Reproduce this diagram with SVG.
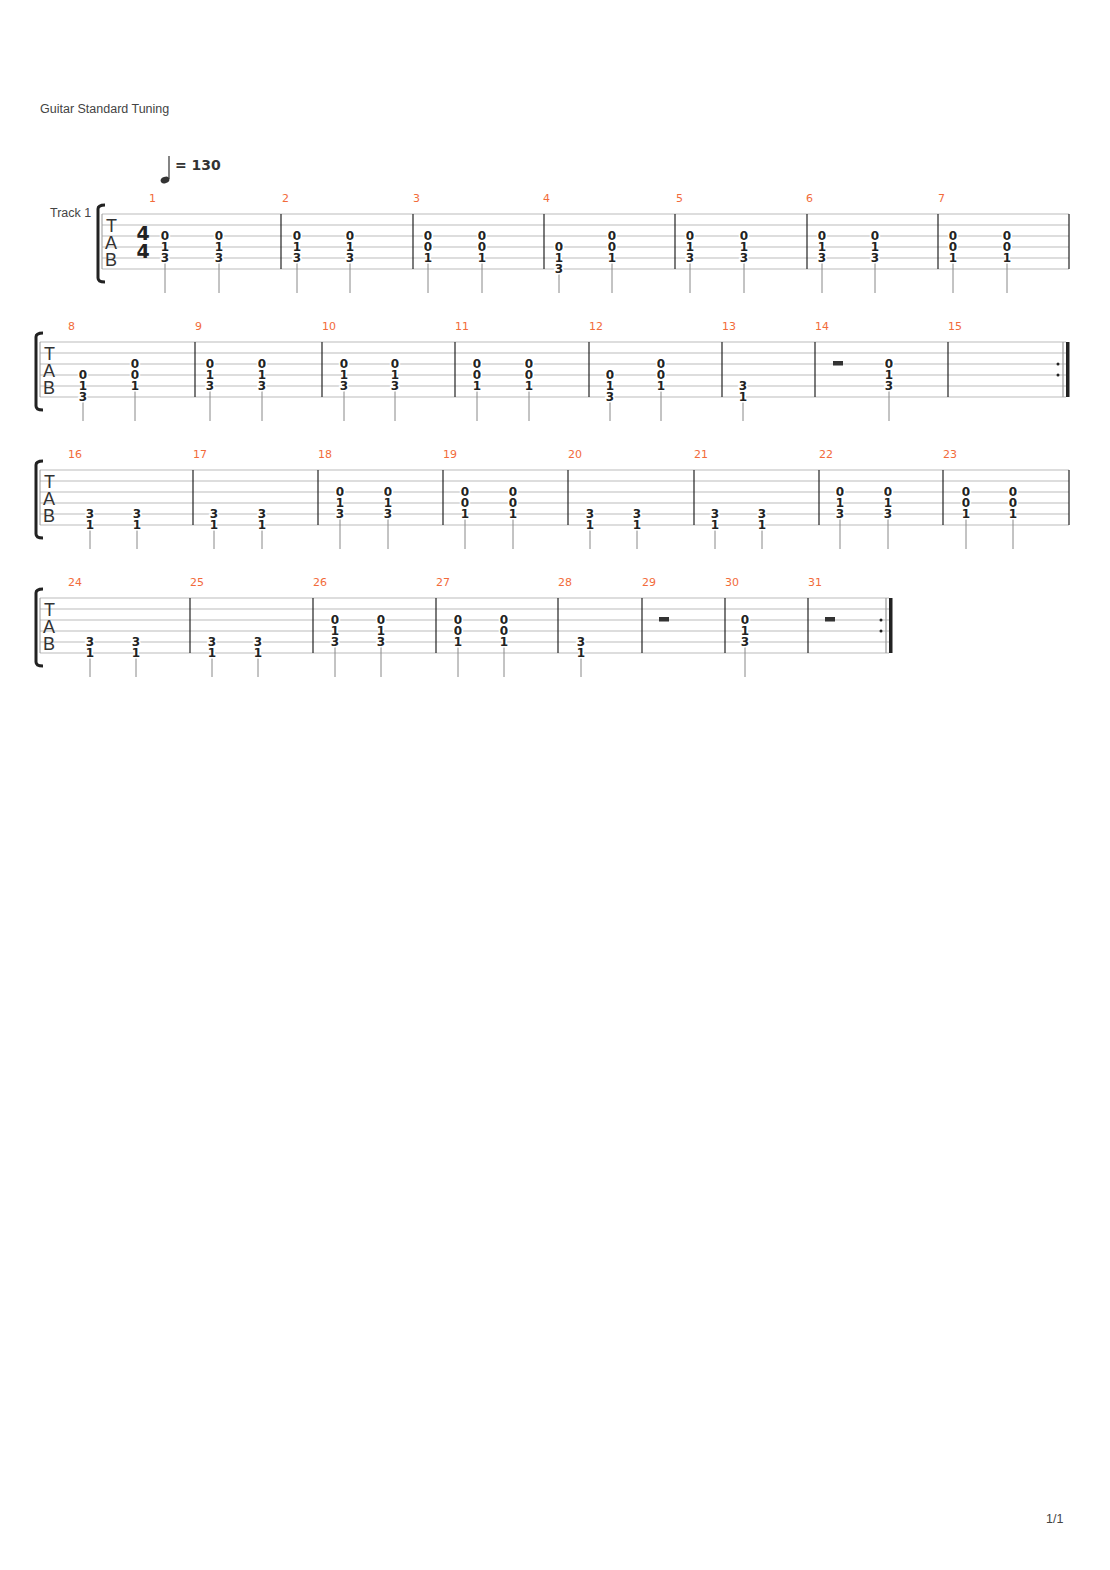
<svg xmlns="http://www.w3.org/2000/svg" xmlns:xlink="http://www.w3.org/1999/xlink" width="1110" height="1570" viewBox="0 0 1110 1570">
<style>
text{font-family:"DejaVu Sans","Liberation Sans",sans-serif}
.d{font-size:12px;font-weight:bold;text-anchor:middle;fill:#222;stroke:#fff;stroke-width:3;paint-order:stroke}
.n{font-size:11px;fill:#f26b3a}
.sl{stroke:#bbb;stroke-width:1}
.bl{stroke:#222;stroke-width:1.2}
.st{stroke:#888;stroke-width:1}
.tab{font-size:18px;fill:#333;font-family:"Liberation Sans",sans-serif}
.lbl{font-size:12.5px;fill:#444;font-family:"Liberation Sans",sans-serif}
</style>
<defs>
<g id="A"><line class="st" x1="0" y1="49" x2="0" y2="79"/><text class="d" x="0" y="26">0</text><text class="d" x="0" y="37">1</text><text class="d" x="0" y="48">3</text></g>
<g id="B"><line class="st" x1="0" y1="49" x2="0" y2="79"/><text class="d" x="0" y="26">0</text><text class="d" x="0" y="37">0</text><text class="d" x="0" y="48">1</text></g>
<g id="C"><line class="st" x1="0" y1="60" x2="0" y2="79"/><text class="d" x="0" y="37">0</text><text class="d" x="0" y="48">1</text><text class="d" x="0" y="59">3</text></g>
<g id="D"><line class="st" x1="0" y1="60" x2="0" y2="79"/><text class="d" x="0" y="48">3</text><text class="d" x="0" y="59">1</text></g>
<rect id="R" x="-5" y="19" width="10" height="4.5" fill="#333"/>
</defs>
<text class="lbl" x="40" y="113">Guitar Standard Tuning</text>
<text class="lbl" x="1046" y="1523">1/1</text>
<g id="tempo"><ellipse cx="165" cy="180" rx="4.5" ry="3.2" fill="#333" transform="rotate(-20 165 180)"/><line x1="169" y1="179" x2="169" y2="156" stroke="#333" stroke-width="1.2"/><text x="175" y="170" font-size="14" font-weight="bold" fill="#333">= 130</text></g>
<text class="lbl" x="50" y="217">Track 1</text>

<!-- System 1 -->
<g id="sys1">
<g transform="translate(0,214)">
<path d="M105,-9 Q98,-9 98,-5 V64 Q98,68 105,68" fill="none" stroke="#222" stroke-width="3"/>
<g class="sl"><line x1="102" y1="0" x2="1069" y2="0"/><line x1="102" y1="11" x2="1069" y2="11"/><line x1="102" y1="22" x2="1069" y2="22"/><line x1="102" y1="33" x2="1069" y2="33"/><line x1="102" y1="44" x2="1069" y2="44"/><line x1="102" y1="55" x2="1069" y2="55"/></g>
<line x1="102" y1="0" x2="102" y2="55" stroke="#999"/>
<text class="tab" x="106" y="18">T</text><text class="tab" x="105" y="35">A</text><text class="tab" x="105" y="52">B</text>
<text x="143" y="26" font-size="19" font-weight="bold" font-family="Liberation Serif,serif" text-anchor="middle" fill="#222">4</text>
<text x="143" y="44" font-size="19" font-weight="bold" font-family="Liberation Serif,serif" text-anchor="middle" fill="#222">4</text>
<g class="bl"><line x1="281" y1="0" x2="281" y2="55"/><line x1="413" y1="0" x2="413" y2="55"/><line x1="544" y1="0" x2="544" y2="55"/><line x1="675" y1="0" x2="675" y2="55"/><line x1="807" y1="0" x2="807" y2="55"/><line x1="938" y1="0" x2="938" y2="55"/><line x1="1069" y1="0" x2="1069" y2="55"/></g>
<text class="n" x="149" y="-12">1</text><text class="n" x="282" y="-12">2</text><text class="n" x="413" y="-12">3</text><text class="n" x="543" y="-12">4</text><text class="n" x="676" y="-12">5</text><text class="n" x="806" y="-12">6</text><text class="n" x="938" y="-12">7</text>
<use href="#A" x="165"/><use href="#A" x="219"/><use href="#A" x="297"/><use href="#A" x="350"/><use href="#B" x="428"/><use href="#B" x="482"/><use href="#C" x="559"/><use href="#B" x="612"/><use href="#A" x="690"/><use href="#A" x="744"/><use href="#A" x="822"/><use href="#A" x="875"/><use href="#B" x="953"/><use href="#B" x="1007"/>
</g></g>

<!-- System 2 -->
<g id="sys2"><g transform="translate(0,342)">
<path d="M43,-9 Q36,-9 36,-5 V64 Q36,68 43,68" fill="none" stroke="#222" stroke-width="3"/>
<g class="sl"><line x1="40" y1="0" x2="1066" y2="0"/><line x1="40" y1="11" x2="1066" y2="11"/><line x1="40" y1="22" x2="1066" y2="22"/><line x1="40" y1="33" x2="1066" y2="33"/><line x1="40" y1="44" x2="1066" y2="44"/><line x1="40" y1="55" x2="1066" y2="55"/></g>
<line x1="40" y1="0" x2="40" y2="55" stroke="#999"/>
<text class="tab" x="44" y="18">T</text><text class="tab" x="43" y="35">A</text><text class="tab" x="43" y="52">B</text>
<g class="bl"><line x1="195" y1="0" x2="195" y2="55"/><line x1="322" y1="0" x2="322" y2="55"/><line x1="455" y1="0" x2="455" y2="55"/><line x1="589" y1="0" x2="589" y2="55"/><line x1="722" y1="0" x2="722" y2="55"/><line x1="815" y1="0" x2="815" y2="55"/><line x1="948" y1="0" x2="948" y2="55"/></g>
<line x1="1063" y1="0" x2="1063" y2="55" stroke="#999" stroke-width="1.2"/><rect x="1066" y="0" width="3.5" height="55" fill="#222"/><circle cx="1058" cy="22" r="1.5" fill="#222"/><circle cx="1058" cy="33" r="1.5" fill="#222"/>
<text class="n" x="68" y="-12">8</text><text class="n" x="195" y="-12">9</text><text class="n" x="322" y="-12">10</text><text class="n" x="455" y="-12">11</text><text class="n" x="589" y="-12">12</text><text class="n" x="722" y="-12">13</text><text class="n" x="815" y="-12">14</text><text class="n" x="948" y="-12">15</text>
<use href="#C" x="83"/><use href="#B" x="135"/><use href="#A" x="210"/><use href="#A" x="262"/><use href="#A" x="344"/><use href="#A" x="395"/><use href="#B" x="477"/><use href="#B" x="529"/><use href="#C" x="610"/><use href="#B" x="661"/><use href="#D" x="743"/><use href="#R" x="838"/><use href="#A" x="889"/>
</g></g>

<!-- System 3 -->
<g id="sys3"><g transform="translate(0,470)">
<path d="M43,-9 Q36,-9 36,-5 V64 Q36,68 43,68" fill="none" stroke="#222" stroke-width="3"/>
<g class="sl"><line x1="40" y1="0" x2="1069" y2="0"/><line x1="40" y1="11" x2="1069" y2="11"/><line x1="40" y1="22" x2="1069" y2="22"/><line x1="40" y1="33" x2="1069" y2="33"/><line x1="40" y1="44" x2="1069" y2="44"/><line x1="40" y1="55" x2="1069" y2="55"/></g>
<line x1="40" y1="0" x2="40" y2="55" stroke="#999"/>
<text class="tab" x="44" y="18">T</text><text class="tab" x="43" y="35">A</text><text class="tab" x="43" y="52">B</text>
<g class="bl"><line x1="193" y1="0" x2="193" y2="55"/><line x1="318" y1="0" x2="318" y2="55"/><line x1="443" y1="0" x2="443" y2="55"/><line x1="568" y1="0" x2="568" y2="55"/><line x1="694" y1="0" x2="694" y2="55"/><line x1="819" y1="0" x2="819" y2="55"/><line x1="943" y1="0" x2="943" y2="55"/><line x1="1069" y1="0" x2="1069" y2="55"/></g>
<text class="n" x="68" y="-12">16</text><text class="n" x="193" y="-12">17</text><text class="n" x="318" y="-12">18</text><text class="n" x="443" y="-12">19</text><text class="n" x="568" y="-12">20</text><text class="n" x="694" y="-12">21</text><text class="n" x="819" y="-12">22</text><text class="n" x="943" y="-12">23</text>
<use href="#D" x="90"/><use href="#D" x="137"/><use href="#D" x="214"/><use href="#D" x="262"/><use href="#A" x="340"/><use href="#A" x="388"/><use href="#B" x="465"/><use href="#B" x="513"/><use href="#D" x="590"/><use href="#D" x="637"/><use href="#D" x="715"/><use href="#D" x="762"/><use href="#A" x="840"/><use href="#A" x="888"/><use href="#B" x="966"/><use href="#B" x="1013"/>
</g></g>

<!-- System 4 -->
<g id="sys4"><g transform="translate(0,598)">
<path d="M43,-9 Q36,-9 36,-5 V64 Q36,68 43,68" fill="none" stroke="#222" stroke-width="3"/>
<g class="sl"><line x1="40" y1="0" x2="889" y2="0"/><line x1="40" y1="11" x2="889" y2="11"/><line x1="40" y1="22" x2="889" y2="22"/><line x1="40" y1="33" x2="889" y2="33"/><line x1="40" y1="44" x2="889" y2="44"/><line x1="40" y1="55" x2="889" y2="55"/></g>
<line x1="40" y1="0" x2="40" y2="55" stroke="#999"/>
<text class="tab" x="44" y="18">T</text><text class="tab" x="43" y="35">A</text><text class="tab" x="43" y="52">B</text>
<g class="bl"><line x1="190" y1="0" x2="190" y2="55"/><line x1="313" y1="0" x2="313" y2="55"/><line x1="436" y1="0" x2="436" y2="55"/><line x1="558" y1="0" x2="558" y2="55"/><line x1="642" y1="0" x2="642" y2="55"/><line x1="725" y1="0" x2="725" y2="55"/><line x1="808" y1="0" x2="808" y2="55"/></g>
<line x1="886" y1="0" x2="886" y2="55" stroke="#999" stroke-width="1.2"/><rect x="889" y="0" width="3.5" height="55" fill="#222"/><circle cx="881" cy="22" r="1.5" fill="#222"/><circle cx="881" cy="33" r="1.5" fill="#222"/>
<text class="n" x="68" y="-12">24</text><text class="n" x="190" y="-12">25</text><text class="n" x="313" y="-12">26</text><text class="n" x="436" y="-12">27</text><text class="n" x="558" y="-12">28</text><text class="n" x="642" y="-12">29</text><text class="n" x="725" y="-12">30</text><text class="n" x="808" y="-12">31</text>
<use href="#D" x="90"/><use href="#D" x="136"/><use href="#D" x="212"/><use href="#D" x="258"/><use href="#A" x="335"/><use href="#A" x="381"/><use href="#B" x="458"/><use href="#B" x="504"/><use href="#D" x="581"/><use href="#R" x="664"/><use href="#A" x="745"/><use href="#R" x="830"/>
</g></g>
</svg>
